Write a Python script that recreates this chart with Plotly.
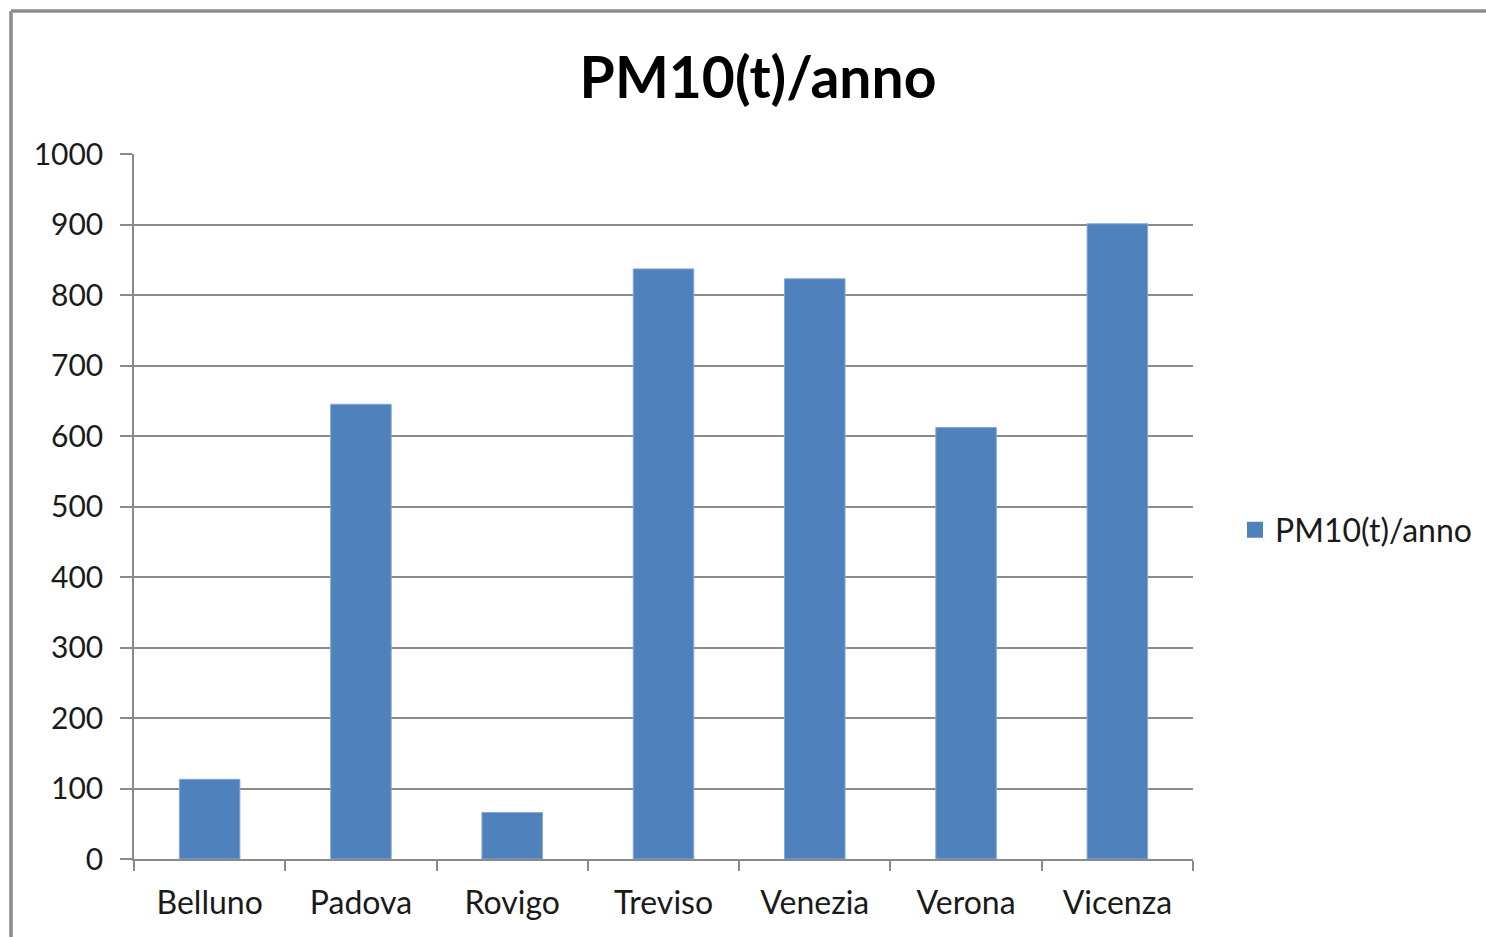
import plotly.graph_objects as go

# Annual PM10 emissions by province (tonnes/year)
province = ["Belluno", "Padova", "Rovigo", "Treviso", "Venezia", "Verona", "Vicenza"]
pm10_tonnes = [113, 645, 66, 837, 823, 612, 901]
series_name = "PM10(t)/anno"
y_ticks = [0, 100, 200, 300, 400, 500, 600, 700, 800, 900, 1000]

W, H = 1486, 937
L, R, T, B = 134, 1193, 154, 859
FONT = "Lato, 'Open Sans', sans-serif"
GRID = "#8a8a8a"
BAR = "#4F81BD"


def px_x(px):
    return (px - L) / (R - L)


def px_y(py):
    return (B - py) / (B - T)


fig = go.Figure()
fig.add_trace(go.Bar(
    x=province,
    y=pm10_tonnes,
    name=series_name,
    marker=dict(color=BAR, line=dict(color="#86A8D6", width=1)),
    showlegend=False,
))
# Legend entry with a larger square swatch
fig.add_trace(go.Scatter(
    x=[None], y=[None], mode="markers", name=series_name,
    marker=dict(symbol="square", size=17, color=BAR),
    showlegend=True,
))

fig.update_layout(
    width=W, height=H,
    margin=dict(l=L, r=W - R, t=T, b=H - B, autoexpand=False),
    paper_bgcolor="white",
    plot_bgcolor="white",
    font=dict(family=FONT, color="#1a1a1a"),
    bargap=0.6,
    title=dict(
        text="<b>PM10(t)/anno</b>",
        font=dict(family=FONT, size=57, color="#000000"),
        x=758 / W, xanchor="center",
        y=1 - 78 / H, yanchor="middle",
    ),
    legend=dict(
        x=px_x(1235), xanchor="left",
        y=px_y(530), yanchor="middle",
        font=dict(family=FONT, size=32, color="#1a1a1a"),
        itemwidth=30,
        bgcolor="rgba(0,0,0,0)",
    ),
    xaxis=dict(
        type="category",
        showline=True, linecolor=GRID, linewidth=1.5,
        ticks="outside", ticklen=10, tickcolor=GRID, tickwidth=1.5,
        tickson="boundaries",
        showgrid=False,
        tickfont=dict(family=FONT, size=32, color="#1a1a1a"),
        ticklabelstandoff=15,
    ),
    yaxis=dict(
        range=[0, 1000],
        tickvals=y_ticks,
        showline=True, linecolor=GRID, linewidth=1.5,
        ticks="outside", ticklen=12, tickcolor=GRID, tickwidth=1.5,
        showgrid=True, gridcolor=GRID, gridwidth=1.5,
        zeroline=False,
        tickfont=dict(family=FONT, size=30, color="#1a1a1a"),
        ticklabelstandoff=11,
    ),
)

# Outer chart frame (top and left edges)
fig.add_shape(type="line", xref="paper", yref="paper",
              x0=px_x(11), y0=px_y(11), x1=px_x(W + 5), y1=px_y(11),
              line=dict(color="#8c8c8c", width=3.5))
fig.add_shape(type="line", xref="paper", yref="paper",
              x0=px_x(11), y0=px_y(11), x1=px_x(11), y1=px_y(H + 5),
              line=dict(color="#8c8c8c", width=3.5))

fig.write_html("out.html")
